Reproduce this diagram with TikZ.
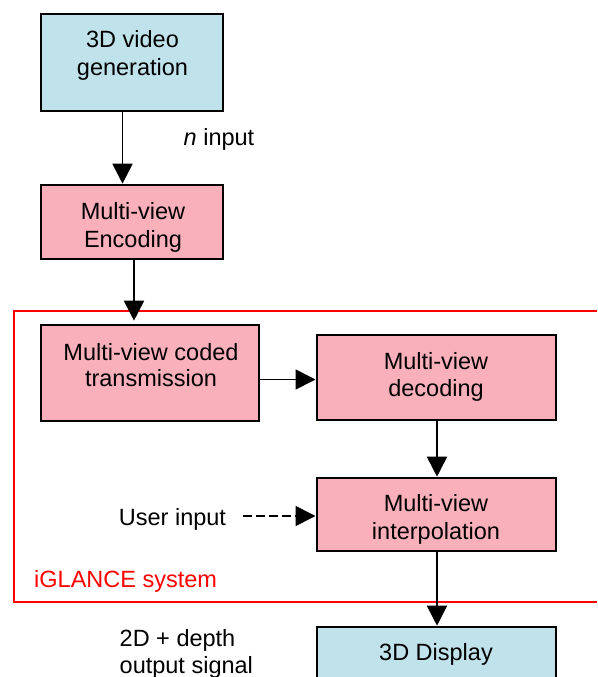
\documentclass[tikz,border=0pt]{standalone}
\usepackage{fontspec}
\setmainfont{Liberation Sans}
\usetikzlibrary{arrows.meta}
\tikzset{
  x=1pt,y=-1pt,
  box/.style={draw=black,line width=2pt,anchor=north west,inner sep=0pt,align=center,font=\fontsize{23.5}{28}\selectfont},
  bluebox/.style={box,fill=boxblue},
  pinkbox/.style={box,fill=boxpink},
  conn/.style={draw=black,line width=1.7pt,-{Triangle[length=20pt,width=20pt]}},
  lab/.style={inner sep=0pt,align=left,font=\fontsize{23.5}{28}\selectfont}
}
\definecolor{boxblue}{RGB}{192,226,235}
\definecolor{boxpink}{RGB}{249,176,186}
\begin{document}
\begin{tikzpicture}
\useasboundingbox (0,0) rectangle (597,677);
\node[bluebox,minimum width=182pt,minimum height=97pt] (gen) at (39.5,12.7) {};
\node[lab,align=center,anchor=center] (gentext) at (132.5,55) {3D video\\generation};
\node[pinkbox,minimum width=182pt,minimum height=74pt] (enc) at (39.5,183.7) {};
\node[lab,align=center,anchor=center] (enctext) at (133,227.5) {Multi-view\\Encoding};
\node[pinkbox,minimum width=218pt,minimum height=96pt] (trans) at (39.5,323.7) {};
\node[lab,align=center,anchor=center,font=\fontsize{23.5}{26.5}\selectfont] (transtext) at (151,365) {Multi-view coded\\transmission};
\node[pinkbox,minimum width=239pt,minimum height=85pt] (dec) at (315.5,333.7) {};
\node[lab,align=center,anchor=center,font=\fontsize{23.5}{27}\selectfont] (dectext) at (436,377) {Multi-view\\decoding};
\node[pinkbox,minimum width=239pt,minimum height=73pt] (interp) at (315.5,476.7) {};
\node[lab,align=center,anchor=center] (interptext) at (436,519.5) {Multi-view\\interpolation};
\node[bluebox,minimum width=239pt,minimum height=60pt] (disp) at (315.5,625.7) {};
\node[lab,anchor=center] (disptext) at (436,654.5) {3D Display};
\node[lab,anchor=center] (ninput) at (219,139.5) {\textit{n} input};
\node[lab,anchor=center] (user) at (172.5,519) {User input};
\node[lab,anchor=north west,font=\fontsize{23.5}{26.5}\selectfont] (output) at (119.5,629.5) {2D + depth\\output signal};
\node[lab,anchor=west,text=red] (sys) at (34,581.5) {iGLANCE system};
\draw[red,line width=1.2pt] (597,311) -- (14,311) -- (14,602) -- (597,602);
\coordinate (c1) at (122.5,0);
\coordinate (c2) at (134,0);
\coordinate (c3) at (437,0);
\draw[conn] (gen.south -| c1) -- (enc.north -| c1);
\draw[conn,shorten >=3pt] (enc.south -| c2) -- (trans.north -| c2);
\draw[conn] (trans.east |- 0,379.5) -- (dec.west |- 0,379.5);
\draw[conn] (dec.south -| c3) -- (interp.north -| c3);
\draw[conn] (interp.south -| c3) -- (disp.north -| c3);
\coordinate (ustart) at (243,516);
\draw[conn,dashed,dash pattern=on 9pt off 4pt] (ustart) -- (interp.west |- ustart);
\end{tikzpicture}
\end{document}
